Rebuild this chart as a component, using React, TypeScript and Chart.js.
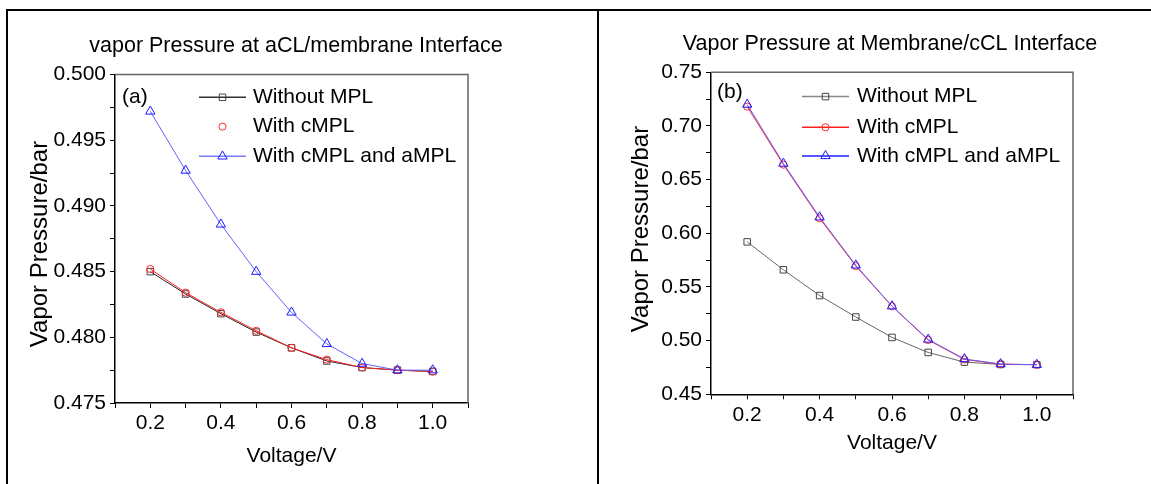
import React, { useEffect, useRef } from "react";
import { Chart, registerables } from "chart.js";

Chart.register(...registerables);

const FONT = "'Liberation Sans', Arial, sans-serif";

// ---------- data ----------
const voltage = [0.2, 0.3, 0.4, 0.5, 0.6, 0.7, 0.8, 0.9, 1.0];
const seriesNames = ["Without MPL", "With cMPL", "With cMPL and aMPL"];

const aWithoutMPL = [0.485, 0.4833, 0.4818, 0.4804, 0.4792, 0.4782, 0.4777, 0.4775, 0.4774];
const aWithCMPL = [0.4852, 0.4834, 0.4819, 0.4805, 0.4792, 0.4783, 0.4777, 0.4775, 0.4774];
const aWithCAndAMPL = [0.4972, 0.4927, 0.4886, 0.485, 0.4819, 0.4795, 0.478, 0.4775, 0.4775];

const bWithoutMPL = [0.592, 0.566, 0.542, 0.522, 0.503, 0.489, 0.48, 0.4778, 0.4776];
const bWithCMPL = [0.718, 0.664, 0.614, 0.5695, 0.532, 0.5006, 0.4825, 0.478, 0.4776];
const bWithCAndAMPL = [0.72, 0.665, 0.615, 0.5702, 0.5321, 0.5011, 0.4829, 0.4782, 0.4776];

const titleA = "vapor Pressure at aCL/membrane Interface";
const titleB = "Vapor Pressure at Membrane/cCL Interface";
const xTitle = "Voltage/V";
const yTitle = "Vapor Pressure/bar";

const xMin = 0.1, xMax = 1.1, xStep = 0.1;
const aYMin = 0.475, aYMax = 0.5, aYStep = 0.0025;
const bYMin = 0.45, bYMax = 0.75, bYStep = 0.025;

type Pt = { x: number; y: number };
const toPoints = (ys: number[]): Pt[] => voltage.map((x, i) => ({ x, y: ys[i] }));

function drawMarker(ctx: CanvasRenderingContext2D, style: string, x: number, y: number, r: number) {
  ctx.beginPath();
  if (style === "rect") {
    const s = Math.SQRT1_2 * r;
    ctx.rect(x - s, y - s, 2 * s, 2 * s);
  } else if (style === "triangle") {
    let rad = 0;
    ctx.moveTo(x + Math.sin(rad) * r, y - Math.cos(rad) * r);
    rad += (2 * Math.PI) / 3;
    ctx.lineTo(x + Math.sin(rad) * r, y - Math.cos(rad) * r);
    rad += (2 * Math.PI) / 3;
    ctx.lineTo(x + Math.sin(rad) * r, y - Math.cos(rad) * r);
    ctx.closePath();
  } else {
    ctx.arc(x, y, r, 0, Math.PI * 2);
  }
  ctx.stroke();
}

const frameLegendPlugin = {
  id: "frameLegend",
  afterDraw(chart: any, _args: any, opts: any) {
    const { ctx, chartArea: ca } = chart;
    ctx.save();
    ctx.strokeStyle = opts.frameColor;
    ctx.lineWidth = 1.5;
    ctx.beginPath();
    ctx.moveTo(ca.left, ca.top);
    ctx.lineTo(ca.right, ca.top);
    ctx.lineTo(ca.right, ca.bottom);
    ctx.stroke();

    // y axis title
    ctx.save();
    ctx.translate(opts.yTitleX, opts.yTitleY);
    ctx.rotate(-Math.PI / 2);
    ctx.font = `24px ${FONT}`;
    ctx.fillStyle = "#000";
    ctx.textAlign = "center";
    ctx.textBaseline = "middle";
    ctx.fillText(yTitle, 0, 0);
    ctx.restore();

    ctx.font = `21px ${FONT}`;
    ctx.fillStyle = "#000";
    ctx.textBaseline = "middle";
    ctx.textAlign = "left";
    ctx.fillText(opts.panel, ca.left + opts.panelDx, ca.top + opts.panelDy);

    chart.data.datasets.forEach((ds: any, i: number) => {
      const y = ca.top + opts.rows[i];
      const x0 = ca.left + opts.lineX0;
      const x1 = ca.left + opts.lineX1;
      if (ds.legendLine) {
        ctx.strokeStyle = ds.legendLineColor;
        ctx.lineWidth = ds.legendLineWidth;
        ctx.beginPath();
        ctx.moveTo(x0, y);
        ctx.lineTo(x1, y);
        ctx.stroke();
      }
      ctx.strokeStyle = ds.pointBorderColor;
      ctx.lineWidth = 1;
      ctx.fillStyle = "#fff";
      drawMarker(ctx, ds.pointStyle, (x0 + x1) / 2, y, ds.pointRadius);
      ctx.fillStyle = "#000";
      ctx.fillText(ds.label, ca.left + opts.textX, y);
    });
    ctx.restore();
  },
};

interface PanelCfg {
  width: number;
  title: string;
  titlePadTop: number;
  titlePadBottom: number;
  padLeft: number;
  padRight: number;
  yWidth: number;
  y2Width: number;
  xHeight: number;
  xTitlePad: number;
  yMin: number;
  yMax: number;
  yStep: number;
  yDecimals: number;
  series: number[][];
  lineColors: string[];
  legendLine: boolean[];
  legendLineColors: string[];
  legend: any;
  frameColor: string;
}

function makeChart(canvas: HTMLCanvasElement, p: PanelCfg) {
  const styles = ["rect", "circle", "triangle"];
  const radii = [4.6, 3.6, 5.4];
  const markerColors = ["#444444", "#ff2a2a", "#1a1aff"];
  const datasets = p.series.map((s, i) => ({
    label: seriesNames[i],
    data: toPoints(s),
    borderColor: p.lineColors[i],
    borderWidth: 1,
    pointStyle: styles[i],
    pointRadius: radii[i],
    pointBorderColor: markerColors[i],
    pointBackgroundColor: "rgba(0,0,0,0)",
    pointBorderWidth: 1,
    tension: 0,
    order: 3 - i,
    legendLine: p.legendLine[i],
    legendLineColor: p.legendLineColors[i],
    legendLineWidth: 1.5,
  }));

  return new Chart(canvas, {
    type: "line",
    data: { datasets } as any,
    plugins: [frameLegendPlugin as any],
    options: {
      animation: false,
      responsive: false,
      devicePixelRatio: 1,
      layout: { padding: { left: p.padLeft, right: p.padRight, top: 0, bottom: 0 } },
      plugins: {
        legend: { display: false },
        tooltip: { enabled: false },
        title: {
          display: true,
          text: p.title,
          color: "#000",
          font: { family: FONT, size: 21.5, weight: "normal" as any, lineHeight: 1.2 },
          padding: { top: p.titlePadTop, bottom: p.titlePadBottom },
        },
        frameLegend: { ...p.legend, frameColor: p.frameColor },
      } as any,
      scales: {
        x: {
          type: "linear",
          position: "bottom",
          min: xMin,
          max: xMax,
          afterFit: (s: any) => {
            s.height = p.xHeight;
          },
          ticks: {
            stepSize: xStep,
            autoSkip: false,
            maxRotation: 0,
            padding: 3,
            color: "#000",
            font: { family: FONT, size: 21, lineHeight: 1.2 },
            callback: (v: any, i: number) => (i % 2 === 1 ? Number(v).toFixed(1) : ""),
          },
          grid: { drawOnChartArea: false, drawTicks: true, tickLength: 5, color: "#000", lineWidth: 1 },
          border: { display: true, color: "#000", width: 1.5 },
          title: {
            display: true,
            text: xTitle,
            color: "#000",
            font: { family: FONT, size: 21, lineHeight: 1 },
            padding: { top: 0, bottom: p.xTitlePad },
          },
        },
        y: {
          type: "linear",
          position: "left",
          min: p.yMin,
          max: p.yMax,
          afterFit: (s: any) => {
            s.width = p.yWidth;
          },
          ticks: {
            stepSize: p.yStep,
            autoSkip: false,
            maxTicksLimit: 100,
            padding: 4,
            color: "#000",
            font: { family: FONT, size: 21, lineHeight: 1.2 },
            callback: (v: any, i: number) => (i % 2 === 0 ? Number(v).toFixed(p.yDecimals) : ""),
          },
          grid: { drawOnChartArea: false, drawTicks: true, tickLength: 5, color: "#000", lineWidth: 1 },
          border: { display: true, color: "#000", width: 1.5 },
          title: { display: false },
        },
        y2: {
          type: "linear",
          position: "right",
          display: true,
          min: p.yMin,
          max: p.yMax,
          afterFit: (s: any) => {
            s.width = p.y2Width;
          },
          ticks: { display: false },
          grid: { display: false, drawTicks: false },
          border: { display: false },
        },
      } as any,
    },
  });
}

const panelA: PanelCfg = {
  width: 597,
  title: titleA,
  titlePadTop: 33,
  titlePadBottom: 15.8,
  padLeft: 0,
  padRight: 5,
  yWidth: 115,
  y2Width: 124,
  xHeight: 81,
  xTitlePad: 16.8,
  yMin: aYMin,
  yMax: aYMax,
  yStep: aYStep,
  yDecimals: 3,
  series: [aWithoutMPL, aWithCMPL, aWithCAndAMPL],
  lineColors: ["#222222", "#ff2020", "#6060ff"],
  legendLine: [true, false, true],
  legendLineColors: ["#333333", "#ff2020", "#7a7aff"],
  legend: {
    panel: "(a)", panelDx: 7, panelDy: 22.7, lineX0: 84, lineX1: 131, textX: 138, rows: [22.7, 52, 81.7],
    yTitleX: 40, yTitleY: 244,
  },
  frameColor: "#666666",
};

const panelB: PanelCfg = {
  width: 552,
  title: titleB,
  titlePadTop: 31.4,
  titlePadBottom: 15.1,
  padLeft: 30,
  padRight: 0,
  yWidth: 82,
  y2Width: 78,
  xHeight: 89.7,
  xTitlePad: 30.2,
  yMin: bYMin,
  yMax: bYMax,
  yStep: bYStep,
  yDecimals: 2,
  series: [bWithoutMPL, bWithCMPL, bWithCAndAMPL],
  lineColors: ["#666666", "#ff2020", "#6060ff"],
  legendLine: [true, true, true],
  legendLineColors: ["#888888", "#ff2020", "#2020ff"],
  legend: {
    panel: "(b)", panelDx: 6, panelDy: 20, lineX0: 91, lineX1: 138, textX: 146, rows: [24.3, 55, 83.6],
    yTitleX: 42, yTitleY: 229,
  },
  frameColor: "#666666",
};

function Panel({ cfg, left }: { cfg: PanelCfg; left: number }) {
  const ref = useRef<HTMLCanvasElement | null>(null);
  useEffect(() => {
    if (!ref.current) return;
    const chart = makeChart(ref.current, cfg);
    return () => chart.destroy();
  }, [cfg]);
  return (
    <canvas
      ref={ref}
      width={cfg.width}
      height={484}
      style={{ position: "absolute", left, top: 0, width: cfg.width, height: 484 }}
    />
  );
}

export default function App() {
  const line = (s: React.CSSProperties) => (
    <div style={{ position: "absolute", background: "#000", zIndex: 2, ...s }} />
  );
  return (
    <div
      style={{
        position: "absolute",
        left: 0,
        top: 0,
        width: 1151,
        height: 484,
        background: "#fff",
        overflow: "hidden",
      }}
    >
      <Panel cfg={panelA} left={0} />
      <Panel cfg={panelB} left={599} />
      {line({ left: 6, top: 9, width: 1145, height: 2 })}
      {line({ left: 6, top: 9, width: 2, height: 475 })}
      {line({ left: 597, top: 9, width: 2, height: 475 })}
    </div>
  );
}
